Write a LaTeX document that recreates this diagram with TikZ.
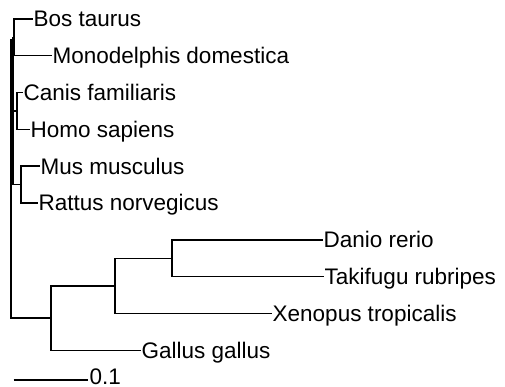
\documentclass[tikz,border=0pt]{standalone}
\usepackage{fontspec}
\setmainfont{Liberation Sans}
\begin{document}
\begin{tikzpicture}[x=1pt,y=-1pt,
  branch/.style={line width=1.4pt, line cap=rect},
  leaf/.style={anchor=base west, inner xsep=1.5pt, inner ysep=0pt, yshift=-8pt,
    font=\fontsize{22.5}{26}\selectfont}]
\useasboundingbox (0,0) rectangle (505,387);
% internal node coordinates
\coordinate (bm) at (14,37.4);
\coordinate (ch) at (17,111);
\coordinate (mr) at (21,184.6);
\coordinate (dt) at (172,258.2);
\coordinate (dtx) at (115,285.8);
\coordinate (g) at (51,318);
% leaf tips
\coordinate (tBos) at (32,19);
\coordinate (tMon) at (51,55.8);
\coordinate (tCan) at (22,92.6);
\coordinate (tHom) at (29,129.4);
\coordinate (tMus) at (39,166.2);
\coordinate (tRat) at (37,203);
\coordinate (tDan) at (322,239.8);
\coordinate (tTak) at (323,276.6);
\coordinate (tXen) at (271,313.4);
\coordinate (tGal) at (140,350.2);
% labels
\node[leaf] (Bos) at (tBos) {Bos taurus};
\node[leaf] (Mon) at (tMon) {Monodelphis domestica};
\node[leaf] (Can) at (tCan) {Canis familiaris};
\node[leaf] (Hom) at (tHom) {Homo sapiens};
\node[leaf] (Mus) at (tMus) {Mus musculus};
\node[leaf] (Rat) at (tRat) {Rattus norvegicus};
\node[leaf] (Dan) at (tDan) {Danio rerio};
\node[leaf] (Tak) at (tTak) {Takifugu rubripes};
\node[leaf] (Xen) at (tXen) {Xenopus tropicalis};
\node[leaf] (Gal) at (tGal) {Gallus gallus};
% root and mammal node
\coordinate (rootTop) at (11,40);
\coordinate (rootBot) at (11,318);
\coordinate (aTop) at (13,37.4);
\coordinate (aBot) at (13,184.6);
\draw[branch] (rootTop) -- (rootBot);
\draw[branch] (aTop) -- (aBot);
% clades
\draw[branch] (tBos) -| (bm) |- (tMon);
\draw[branch] (aTop) -- (bm);
\draw[branch] (tCan) -| (ch) |- (tHom);
\draw[branch] (13,111) -- (ch);
\draw[branch] (tMus) -| (mr) |- (tRat);
\draw[branch] (aBot) -- (mr);
\draw[branch] (tDan) -| (dt) |- (tTak);
\draw[branch] (dt) -| (dtx) |- (tXen);
\draw[branch] (dtx) -| (g) |- (tGal);
\draw[branch] (rootBot) -- (g);
% scale bar
\coordinate (sb1) at (13.5,380);
\coordinate (sb2) at (88,380);
\draw[line width=1.4pt] (sb1) -- (sb2);
\node[leaf, yshift=4pt] (scale) at (sb2) {0.1};
\end{tikzpicture}
\end{document}
